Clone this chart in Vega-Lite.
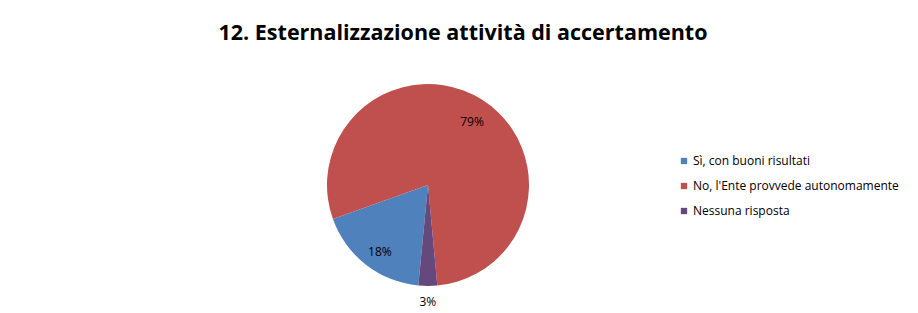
{
  "$schema": "https://vega.github.io/schema/vega-lite/v6.json",
  "autosize": {"type": "none"},
  "width": 202,
  "height": 202,
  "padding": {"left": 327, "top": 84, "right": 389, "bottom": 27},
  "background": "white",
  "config": {"view": {"stroke": null}},
  "title": {
    "text": "12. Esternalizzazione attività di accertamento",
    "font": "Open Sans",
    "fontSize": 21.5,
    "fontWeight": "bold",
    "color": "#000000",
    "anchor": "middle",
    "frame": "group",
    "dx": 35,
    "baseline": "alphabetic",
    "offset": 19
  },
  "data": {
    "values": [
      {"risposta": "Sì, con buoni risultati", "valore": 18, "ordine": 1, "etichetta": "18%"},
      {"risposta": "No, l'Ente  provvede autonomamente", "valore": 79, "ordine": 2, "etichetta": "79%"},
      {"risposta": "Nessuna risposta", "valore": 3, "ordine": 3, "etichetta": "3%"}
    ]
  },
  "encoding": {
    "theta": {"field": "valore", "type": "quantitative", "stack": true, "scale": {"range": [3.2376, 9.5208]}},
    "order": {"field": "ordine", "type": "quantitative"}
  },
  "layer": [
    {
      "mark": {"type": "arc", "outerRadius": 101},
      "encoding": {
        "color": {
          "field": "risposta",
          "type": "nominal",
          "sort": ["Sì, con buoni risultati", "No, l'Ente  provvede autonomamente", "Nessuna risposta"],
          "scale": {"range": ["#4F81BD", "#C0504D", "#65497C"]},
          "legend": {
            "title": null,
            "orient": "none",
            "legendX": 351,
            "legendY": 71,
            "symbolType": "square",
            "symbolSize": 40,
            "symbolStrokeWidth": 0,
            "labelFont": "Open Sans",
            "labelFontSize": 12,
            "labelColor": "#000000",
            "labelOffset": 3,
            "labelLimit": 0,
            "rowPadding": 13
          }
        }
      }
    },
    {
      "mark": {"type": "text", "radius": 80, "dy": 4, "dx": 1, "font": "Open Sans", "fontSize": 12, "color": "#000000"},
      "encoding": {"text": {"condition": {"test": "datum.ordine != 3", "field": "etichetta"}, "value": ""}}
    },
    {
      "mark": {"type": "text", "radius": 117, "font": "Open Sans", "fontSize": 12, "color": "#000000"},
      "encoding": {"text": {"condition": {"test": "datum.ordine == 3", "field": "etichetta"}, "value": ""}}
    }
  ]
}
